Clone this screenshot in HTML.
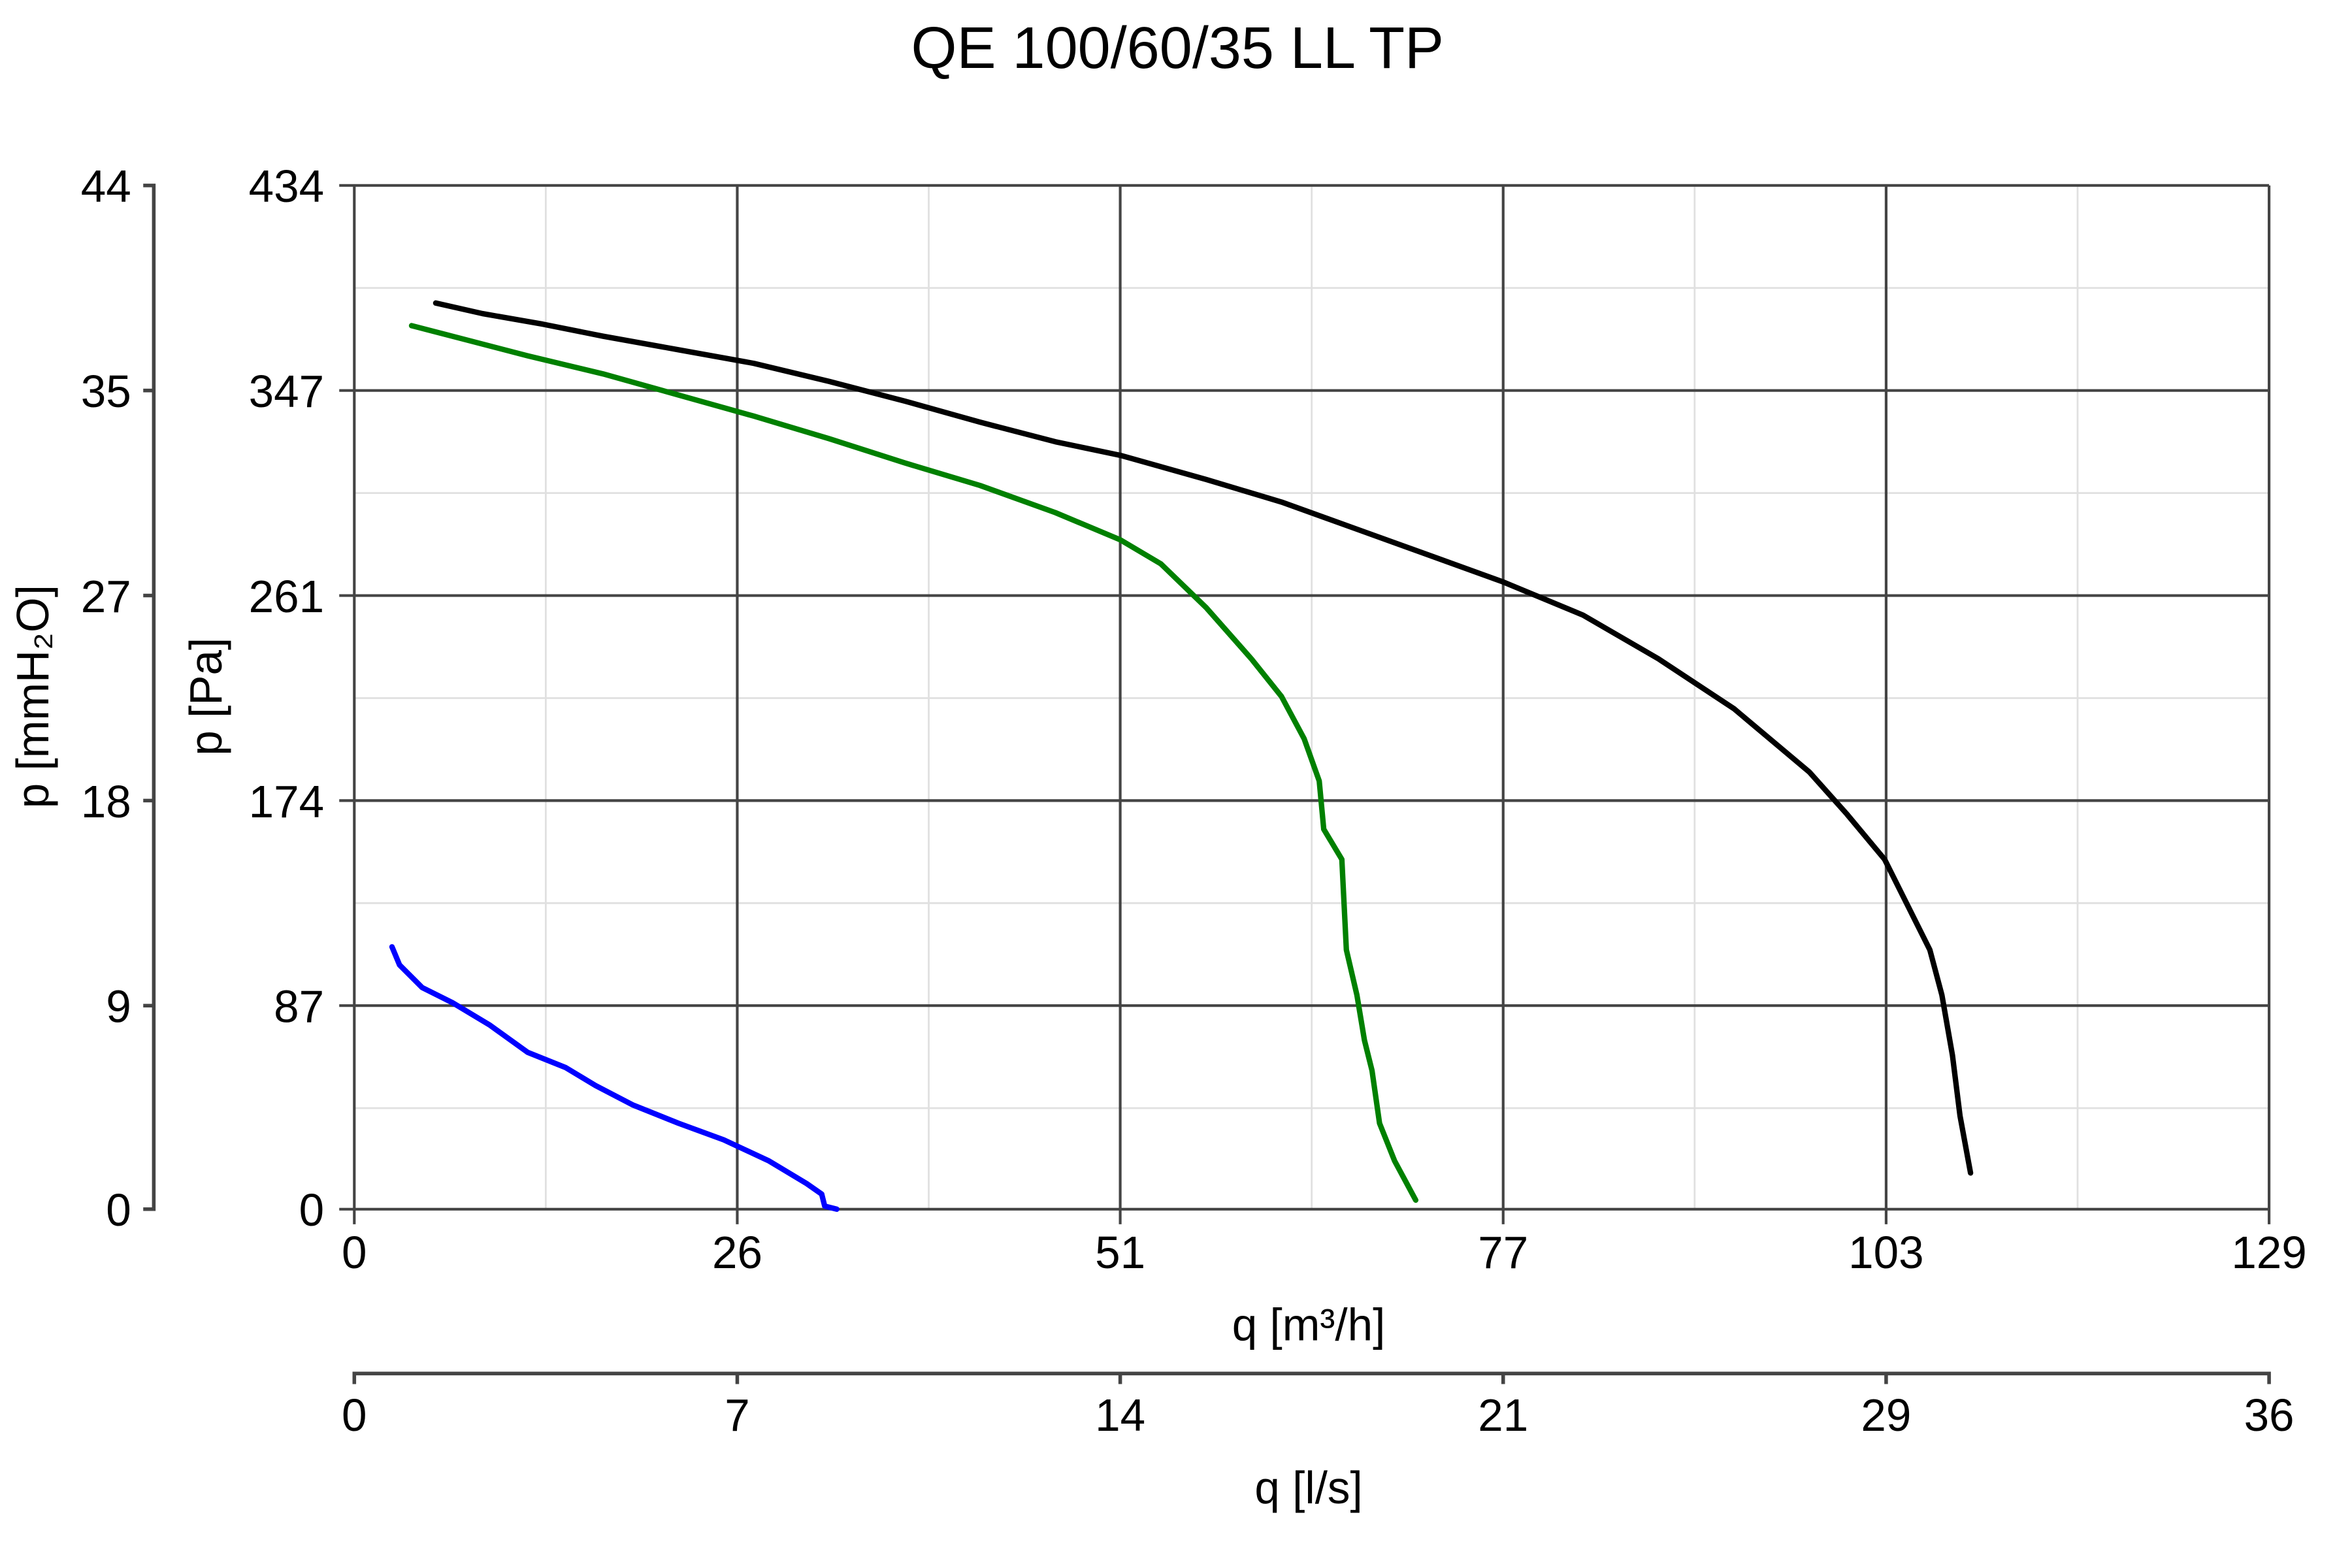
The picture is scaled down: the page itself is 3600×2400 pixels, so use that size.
<!DOCTYPE html>
<html><head><meta charset="utf-8"><style>html,body{margin:0;padding:0;background:#fff}svg{display:block}</style></head>
<body>
<svg width="3600" height="2400" viewBox="0 0 1560 1040" xmlns="http://www.w3.org/2000/svg" font-family="Liberation Sans, sans-serif">
<rect width="1560" height="1040" fill="#fff"/>
<g stroke="#e0e0e0" stroke-width="1.2">
<line x1="362" y1="123" x2="362" y2="802"/><line x1="616" y1="123" x2="616" y2="802"/><line x1="870" y1="123" x2="870" y2="802"/><line x1="1124" y1="123" x2="1124" y2="802"/><line x1="1378" y1="123" x2="1378" y2="802"/>
<line x1="235" y1="191" x2="1505" y2="191"/><line x1="235" y1="327" x2="1505" y2="327"/><line x1="235" y1="463" x2="1505" y2="463"/><line x1="235" y1="599" x2="1505" y2="599"/><line x1="235" y1="735" x2="1505" y2="735"/>
</g>
<g stroke="#444" stroke-width="1.8">
<line x1="489" y1="123" x2="489" y2="802"/><line x1="743" y1="123" x2="743" y2="802"/><line x1="997" y1="123" x2="997" y2="802"/><line x1="1251" y1="123" x2="1251" y2="802"/>
<line x1="225" y1="259" x2="1505" y2="259"/><line x1="225" y1="395" x2="1505" y2="395"/><line x1="225" y1="531" x2="1505" y2="531"/><line x1="225" y1="667" x2="1505" y2="667"/>
<line x1="225" y1="123" x2="1505" y2="123"/><line x1="225" y1="802" x2="1505" y2="802"/>
<line x1="235" y1="123" x2="235" y2="812"/><line x1="1505" y1="123" x2="1505" y2="812"/>
<line x1="489" y1="802" x2="489" y2="812"/><line x1="743" y1="802" x2="743" y2="812"/><line x1="997" y1="802" x2="997" y2="812"/><line x1="1251" y1="802" x2="1251" y2="812"/>
</g>
<g stroke="#444" stroke-width="2.4" fill="none">
<polyline points="95,123 102,123 102,802 95,802"/>
<line x1="95" y1="259" x2="102" y2="259"/><line x1="95" y1="395" x2="102" y2="395"/><line x1="95" y1="531" x2="102" y2="531"/><line x1="95" y1="667" x2="102" y2="667"/>
<polyline points="235,918 235,911 1505,911 1505,918"/>
<line x1="489" y1="911" x2="489" y2="918"/><line x1="743" y1="911" x2="743" y2="918"/><line x1="997" y1="911" x2="997" y2="918"/><line x1="1251" y1="911" x2="1251" y2="918"/>
</g>
<g font-size="30" fill="#000" text-anchor="end">
<text x="87" y="134">44</text><text x="87" y="270">35</text><text x="87" y="406">27</text><text x="87" y="542">18</text><text x="87" y="678">9</text><text x="87" y="813">0</text>
<text x="215" y="134">434</text><text x="215" y="270">347</text><text x="215" y="406">261</text><text x="215" y="542">174</text><text x="215" y="678">87</text><text x="215" y="813">0</text>
</g>
<g font-size="30" fill="#000" text-anchor="middle">
<text x="235" y="841">0</text><text x="489" y="841">26</text><text x="743" y="841">51</text><text x="997" y="841">77</text><text x="1251" y="841">103</text><text x="1505" y="841">129</text>
<text x="235" y="949">0</text><text x="489" y="949">7</text><text x="743" y="949">14</text><text x="997" y="949">21</text><text x="1251" y="949">29</text><text x="1505" y="949">36</text>
<text x="868" y="889">q [m³/h]</text><text x="868" y="997">q [l/s]</text>
<text x="781" y="45" font-size="39">QE 100/60/35 LL TP</text>
<text transform="translate(32,462) rotate(-90)">p [mmH₂O]</text>
<text transform="translate(147,462) rotate(-90)">p [Pa]</text>
</g>
<g fill="none" stroke-width="3.6" stroke-linejoin="round" stroke-linecap="round">
<polyline stroke="#000" points="289,201 320,208 360,215 400,223 450,232 500,241 550,253 600,266 650,280 700,293 743,302 800,318 850,333 900,351 950,369 997,386 1050,408 1100,437 1150,470 1200,512 1225,540 1250,570 1265,600 1280,630 1288,660 1295,700 1300,740 1307,778"/>
<polyline stroke="#008000" points="273,216 300,223 350,236 400,248 450,262 500,276 550,291 600,307 650,322 700,340 743,358 770,374 800,403 830,437 850,462 865,490 875,518 878,550 890,570 893,630 900,660 905,690 910,710 915,745 925,770 939,796"/>
<polyline stroke="#0000ff" points="260,628 265,640 280,655 300,665 325,680 350,698 375,708 395,720 420,733 450,745 480,756 510,770 535,785 545,792 547,800 555,802"/>
</g>
</svg>
</body></html>
